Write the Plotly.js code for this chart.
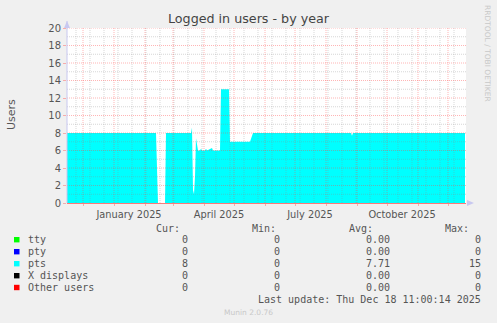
<!DOCTYPE html>
<html><head><meta charset="utf-8">
<script src="https://cdn.plot.ly/plotly-3.0.1.min.js"></script>
<style>html,body{margin:0;padding:0;background:#F0F0F0;}#chart{width:497px;height:323px;}</style>
</head><body><div id="chart"></div>
<script>
// ---- data ----
const dates = ['2024-11-15','2025-02-12','2025-02-14','2025-02-21','2025-02-22','2025-03-19','2025-03-20','2025-03-21','2025-03-22','2025-03-23','2025-03-24','2025-03-25','2025-03-26','2025-03-28','2025-03-29','2025-03-30','2025-04-02','2025-04-03','2025-04-04','2025-04-09','2025-04-10','2025-04-17','2025-04-18','2025-04-26','2025-04-27','2025-05-17','2025-05-18','2025-05-19','2025-05-20','2025-08-26','2025-08-27','2025-08-28','2025-12-18'];
const pts   = [8,8,0,0,8,8,8.6,1.5,1.0,3,7.4,6.5,6.0,6.0,6.2,6.0,6.0,6.2,6.0,6.3,6.0,6.0,13,13,7,7,7.3,7.6,8,8,7.7,8,8];
const zeroDates = ['2024-11-15','2025-12-18'];
const tty = [0,0];
const pty = [0,0];
const xdisplays = [0,0];
const other = [0,0];

const seriesNames  = ['tty','pty','pts','X displays','Other users'];
const seriesColors = ['#00FF00','#0000FF','#00FFFF','#000000','#FF0000'];
const curVals = ['0','0','8','0','0'];
const minVals = ['0','0','0','0','0'];
const avgVals = ['0.00','0.00','7.71','0.00','0.00'];
const maxVals = ['0','0','15','0','0'];

const monthStarts = ['2024-12-01','2025-01-01','2025-02-01','2025-03-01','2025-04-01','2025-05-01','2025-06-01','2025-07-01','2025-08-01','2025-09-01','2025-10-01','2025-11-01','2025-12-01'];
const monthLabels = ['','January 2025','','','April 2025','','','July 2025','','','October 2025','',''];
const yTicks = [0,2,4,6,8,10,12,14,16,18,20];

// ---- geometry helpers ----
const L=67, R=466, T=28, B=203;
const px = x => (x-L)/(R-L);
const py = y => (B-y)/(B-T);

const RED = 'rgba(255,70,70,0.4)';
const GRAY = 'rgba(140,140,140,0.35)';

const shapes = [];
// minor vertical grid every 14 days
for (let d = new Date(Date.UTC(2024,10,24)); d <= new Date(Date.UTC(2025,11,18)); d = new Date(d.getTime()+14*86400000)) {
  const s = d.toISOString().slice(0,10);
  shapes.push({type:'line', layer:'above', xref:'x', yref:'paper', x0:s, x1:s, y0:0, y1:1, line:{color:GRAY, width:1, dash:'1px,1px'}});
}
for (let v=1; v<20; v+=2) shapes.push({type:'line', layer:'above', xref:'paper', yref:'y', x0:0, x1:1, y0:v, y1:v, line:{color:GRAY, width:1, dash:'1px,1px'}});
monthStarts.forEach(s => shapes.push({type:'line', layer:'above', xref:'x', yref:'paper', x0:s, x1:s, y0:0, y1:1, line:{color:RED, width:1, dash:'1px,1px'}}));
yTicks.filter(v=>v>0).forEach(v => shapes.push({type:'line', layer:'above', xref:'paper', yref:'y', x0:0, x1:1, y0:v, y1:v, line:{color:RED, width:1, dash:'1px,1px'}}));
// axes arrows
shapes.push({type:'path', layer:'above', xref:'paper', yref:'paper', path:`M ${px(64)} ${py(28)} L ${px(70)} ${py(28)} L ${px(67)} ${py(21)} Z`, fillcolor:'#C8C8F0', line:{width:0}});
shapes.push({type:'path', layer:'above', xref:'paper', yref:'paper', path:`M ${px(467)} ${py(200)} L ${px(467)} ${py(206)} L ${px(474)} ${py(203)} Z`, fillcolor:'#C8C8F0', line:{width:0}});
shapes.push({type:'line', layer:'above', xref:'paper', yref:'paper', x0:0, x1:0, y0:0, y1:py(21), line:{color:'#C8C8F0', width:1}});

// legend squares
const rowY = [239.7, 251.7, 263.7, 275.7, 287.5];
seriesColors.forEach((c,i) => shapes.push({type:'rect', layer:'above', xref:'paper', yref:'paper', x0:px(14), x1:px(19.5), y0:py(rowY[i]+2.7), y1:py(rowY[i]-2.7), fillcolor:c, line:{width:0}}));

const mono = {family:'DejaVu Sans Mono', size:10, color:'#555'};
const ann = [];
function txt(text, x, y, anchor, font){ ann.push({text, xref:'paper', yref:'paper', x:px(x), y:py(y), xanchor:anchor, yanchor:'middle', showarrow:false, font, align:anchor}); }
txt('Cur:', 182, 228.5, 'right', mono);
txt('Min:', 278, 228.5, 'right', mono);
txt('Avg:', 374.5, 228.5, 'right', mono);
txt('Max:', 470.5, 228.5, 'right', mono);
seriesNames.forEach((n,i) => {
  txt(n, 26, rowY[i], 'left', mono);
  txt(curVals[i], 189.5, rowY[i], 'right', mono);
  txt(minVals[i], 281.5, rowY[i], 'right', mono);
  txt(avgVals[i], 391.5, rowY[i], 'right', mono);
  txt(maxVals[i], 482.5, rowY[i], 'right', mono);
});
txt('Last update: Thu Dec 18 11:00:14 2025', 482.5, 299.5, 'right', mono);
txt('Munin 2.0.76', 248, 312.5, 'center', {family:'DejaVu Sans', size:7.5, color:'#C8C8C8'});
ann.push({text:'RRDTOOL / TOBI OETIKER', xref:'paper', yref:'paper', x:px(488), y:py(53), textangle:90, showarrow:false, xanchor:'center', yanchor:'middle', font:{family:'DejaVu Sans', size:7.5, color:'#C8C8C8'}});
ann.push({text:'Users', xref:'paper', yref:'paper', x:px(11), y:py(115), textangle:-90, showarrow:false, xanchor:'center', yanchor:'middle', font:{family:'DejaVu Sans', size:11, color:'#555'}});

const mk = (x, y, color, name) => ({x, y, type:'scatter', mode:'lines', name, line:{width:0, color}, fill:'tozeroy', fillcolor:color, hoverinfo:'skip', showlegend:false});
const traces = [
  mk(zeroDates, tty, seriesColors[0], 'tty'),
  mk(zeroDates, pty, seriesColors[1], 'pty'),
  mk(dates, pts, seriesColors[2], 'pts'),
  mk(zeroDates, xdisplays, seriesColors[3], 'X displays'),
  mk(zeroDates, other, seriesColors[4], 'Other users')
];

const layout = {
  width:497, height:323,
  paper_bgcolor:'#F0F0F0', plot_bgcolor:'#FFFFFF',
  margin:{l:L, r:497-R, t:T, b:323-B, pad:0},
  showlegend:false,
  title:{text:'Logged in users - by year', xref:'container', yref:'container', x:0.5, y:1-18.5/323, xanchor:'center', yanchor:'middle', font:{family:'DejaVu Sans', size:12.7, color:'#444'}},
  xaxis:{type:'date', range:['2024-11-15','2025-12-19'], tickmode:'array', tickvals:monthStarts, ticktext:monthLabels, ticklabelshift:15,
         ticks:'outside', ticklen:2, tickcolor:RED, showgrid:false, zeroline:false, showline:true, linecolor:'rgba(255,70,70,0.7)', linewidth:1,
         tickfont:{family:'DejaVu Sans', size:9.8, color:'#555'}, fixedrange:true},
  yaxis:{range:[0,20], tickmode:'array', tickvals:yTicks, ticks:'outside', ticklen:3, tickcolor:RED, showgrid:false, zeroline:false, showline:false,
         tickfont:{family:'DejaVu Sans', size:10, color:'#555'}, fixedrange:true},
  shapes, annotations:ann
};
Plotly.newPlot('chart', traces, layout, {staticPlot:true, displayModeBar:false});
</script>
</body></html>
